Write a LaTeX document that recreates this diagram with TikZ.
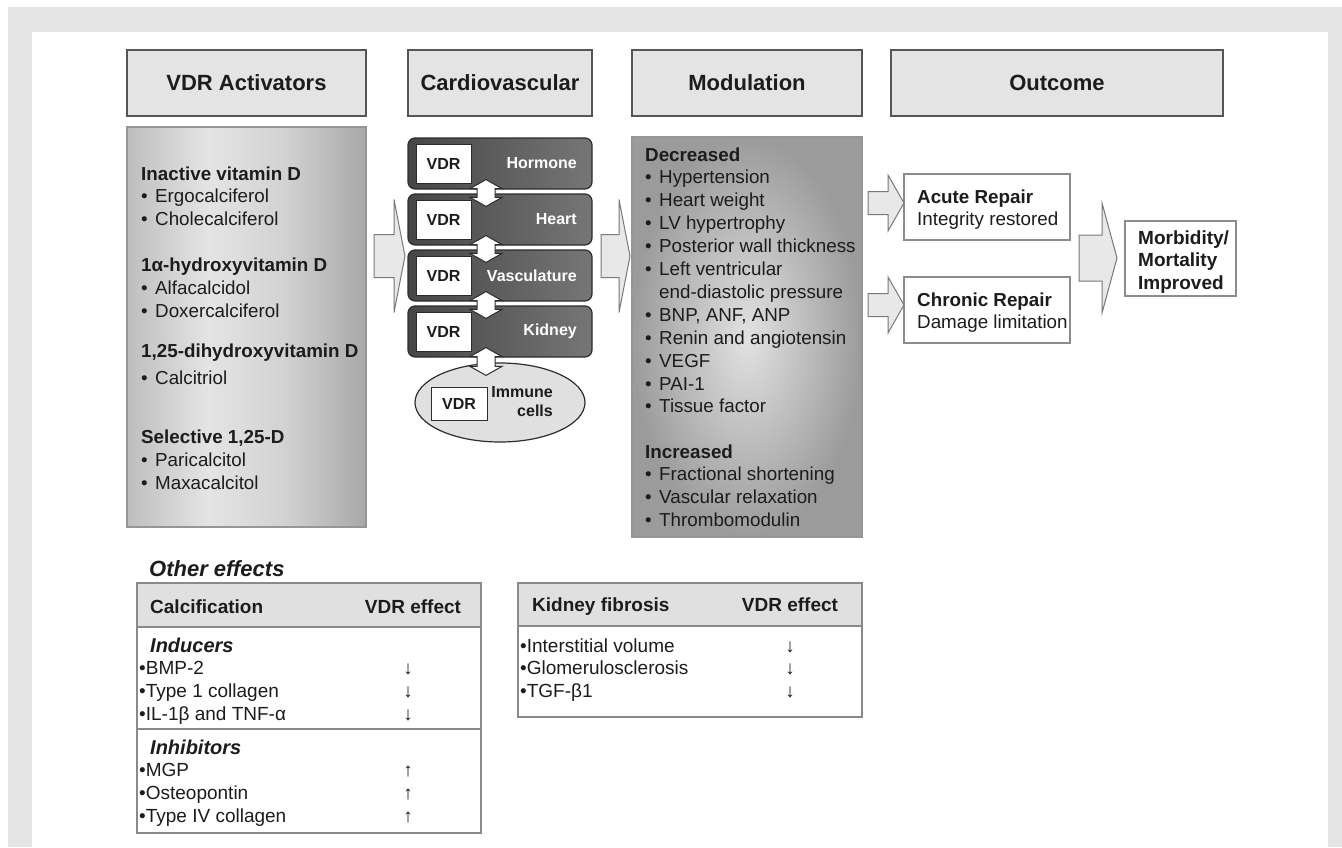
\documentclass[tikz,border=0pt]{standalone}
\usepackage{fontspec}
\setmainfont{Liberation Sans}
\usetikzlibrary{calc,shapes.geometric}
\definecolor{FrameGray}{RGB}{229,229,229}
\definecolor{HeadFill}{RGB}{228,228,228}
\definecolor{HeadLine}{RGB}{85,85,85}
\definecolor{ArrowFill}{RGB}{232,232,232}
\definecolor{ArrowLine}{RGB}{120,120,120}
\definecolor{PanelLine}{RGB}{150,150,150}
\definecolor{PanelEdge}{RGB}{190,190,190}
\definecolor{PanelLight}{RGB}{228,228,228}
\definecolor{PanelMid}{RGB}{210,210,210}
\definecolor{PanelDark}{RGB}{168,168,168}
\definecolor{ModLight}{RGB}{226,226,226}
\definecolor{ModDark}{RGB}{155,155,155}
\definecolor{OrganDark}{RGB}{70,70,70}
\definecolor{OrganLight}{RGB}{118,118,118}
\definecolor{OrganLine}{RGB}{45,45,45}
\definecolor{CellFill}{RGB}{224,224,224}
\definecolor{OutLine}{RGB}{140,140,140}
\definecolor{TableFill}{RGB}{224,224,224}
\definecolor{TableLine}{RGB}{138,138,138}
\definecolor{TextDark}{RGB}{28,28,28}
\pgfdeclarehorizontalshading{activshade}{100bp}{color(0bp)=(PanelEdge); color(25bp)=(PanelEdge); color(42bp)=(PanelLight); color(58bp)=(PanelMid); color(75bp)=(PanelDark); color(100bp)=(PanelDark)}
\newcommand{\blt}{\makebox[14pt][l]{\textbullet}}

\begin{document}
\begin{tikzpicture}[x=1pt,y=1pt,yscale=-1,
		hdr/.style={draw=HeadLine, fill=HeadFill, line width=1.6pt, minimum height=66pt, inner sep=0pt, text=TextDark, font=\fontsize{22}{26}\selectfont\bfseries},
		panel/.style={draw=PanelLine, line width=1.2pt, minimum height=400pt},
		organ/.style={draw=OrganLine, line width=1.2pt, rounded corners=7pt, left color=OrganDark, right color=OrganLight, minimum width=184pt, minimum height=51pt},
		vdrbox/.style={draw=OrganLine, fill=white, line width=1pt, minimum width=55pt, minimum height=39pt, inner sep=0pt, text=TextDark, font=\fontsize{16}{19}\selectfont\bfseries},
		organlbl/.style={anchor=east, inner sep=0pt, text=white, font=\fontsize{16}{19}\selectfont\bfseries},
		listtxt/.style={anchor=base west, inner sep=0pt, align=left, text=TextDark, font=\fontsize{18.8}{22.9}\selectfont},
		outbox/.style={draw=OutLine, fill=white, line width=1.4pt, minimum width=166pt, minimum height=66pt},
		tblhd/.style={draw=TableLine, fill=TableFill, line width=1.5pt, minimum width=344pt, minimum height=44pt},
		tblrow/.style={draw=TableLine, fill=white, line width=1.5pt, minimum width=344pt},
		tbltxt/.style={anchor=base west, inner sep=0pt, align=left, text=TextDark, font=\fontsize{19}{22.9}\selectfont},
		fatarrow/.style n args={3}{draw=ArrowLine, fill=ArrowFill, line width=1pt, to path={
				($(\tikztostart)+(0,-#1)$) -- ($(\tikztotarget)+(-#3,-#1)$) -- ($(\tikztotarget)+(-#3,-#2)$) -- (\tikztotarget)
				-- ($(\tikztotarget)+(-#3,#2)$) -- ($(\tikztotarget)+(-#3,#1)$) -- ($(\tikztostart)+(0,#1)$) -- cycle}},
		dblarrow/.style={draw=OrganLine, fill=white, line width=1pt, to path={
				($(\tikztostart.south)+(-14,-10)$) -- ($(\tikztostart.south)+(2,-1)$) -- ($(\tikztostart.south)+(-5,-1)$)
				-- ($(\tikztotarget.north)+(-5,4)$) -- ($(\tikztotarget.north)+(2,4)$) -- ($(\tikztotarget.north)+(-14,13)$)
				-- ($(\tikztotarget.north)+(-30,4)$) -- ($(\tikztotarget.north)+(-23,4)$) -- ($(\tikztostart.south)+(-23,-1)$)
				-- ($(\tikztostart.south)+(-30,-1)$) -- cycle}}]

		% Page with its grey frame
		\fill[white] (0,0) rectangle (1342,847);
		\fill[FrameGray] (8,7) rectangle (1342,847);
		\fill[white] (32,32) rectangle (1328,847);

		% Column headers
		\node[hdr, minimum width=239pt] (acthd) at (246.5,83) {VDR Activators};
		\node[hdr, minimum width=184pt] (cardhd) at (500,83) {Cardiovascular};
		\node[hdr, minimum width=230pt] (modhd) at (747,83) {Modulation};
		\node[hdr, minimum width=332pt] (outhd) at (1057,83) {Outcome};

		% Activator panel and its lists (placed by the baseline of the last line)
		\node[panel, shading=activshade, minimum width=239pt] (actpanel) at (246.5,327) {};
		\node[listtxt] (inact) at (141,225.8) {\textbf{Inactive vitamin D}\\\blt Ergocalciferol\\\blt Cholecalciferol};
		\node[listtxt] (hydro) at (141,317.3) {\textbf{1α-hydroxyvitamin D}\\\blt Alfacalcidol\\\blt Doxercalciferol};
		\node[listtxt] (dihydro) at (141,384.9) {\textbf{1,25-dihydroxyvitamin D}\\[5pt]\blt Calcitriol};
		\node[listtxt] (select) at (141,489.3) {\textbf{Selective 1,25-D}\\\blt Paricalcitol\\\blt Maxacalcitol};

		% Cardiovascular targets, each with its VDR
		\node[organ] (hormone) at (500,163.5) {};
		\node[organ] (heart) at (500,219.5) {};
		\node[organ] (vascul) at (500,275.5) {};
		\node[organ] (kidney) at (500,331.5) {};
		\node[vdrbox] (vdrhor) at (443.5,163.5) {VDR};
		\node[vdrbox] (vdrhea) at (443.5,219.5) {VDR};
		\node[vdrbox] (vdrvas) at (443.5,275.5) {VDR};
		\node[vdrbox] (vdrkid) at (443.5,331.5) {VDR};
		\node[organlbl] (lblhor) at (577,163.5) {Hormone};
		\node[organlbl] (lblhea) at (577,219.5) {Heart};
		\node[organlbl] (lblvas) at (577,275.5) {Vasculature};
		\node[organlbl] (lblkid) at (577,331.5) {Kidney};

		% Immune cells
		\node[ellipse, draw=OrganLine, fill=CellFill, line width=1.2pt, minimum width=170pt, minimum height=79pt] (immune) at (500,402.5) {};
		\node[vdrbox, minimum width=56pt, minimum height=33pt] (vdrimm) at (459,403.5) {VDR};
		\node[organlbl, text=TextDark, align=right] (lblimm) at (553,402) {Immune\\cells};

		% Two-way links down the column
		\draw[dblarrow] (hormone) to (heart);
		\draw[dblarrow] (heart) to (vascul);
		\draw[dblarrow] (vascul) to (kidney);
		\draw[dblarrow] (kidney) to (immune);

		% Modulation panel and its lists
		\node[panel, inner color=ModLight, outer color=ModDark, minimum width=230pt] (modpanel) at (747,337) {};
		\node[listtxt] (decr) at (645,412.9) {\textbf{Decreased}\\\blt Hypertension\\\blt Heart weight\\\blt LV hypertrophy\\\blt Posterior wall thickness\\\blt Left ventricular\\\hspace*{14pt}end-diastolic pressure\\\blt BNP, ANF, ANP\\\blt Renin and angiotensin\\\blt VEGF\\\blt PAI-1\\\blt Tissue factor};
		\node[listtxt] (incr) at (645,526.7) {\textbf{Increased}\\\blt Fractional shortening\\\blt Vascular relaxation\\\blt Thrombomodulin};

		% Outcome boxes
		\node[outbox] (acute) at (987,207) {};
		\node[outbox] (chronic) at (987,310) {};
		\node[outbox, minimum width=111pt, minimum height=75pt] (morbid) at (1180.5,258.5) {};
		\node[listtxt] (acutetxt) at (917,225.9) {\textbf{Acute Repair}\\Integrity restored};
		\node[listtxt] (chrontxt) at (917,328.9) {\textbf{Chronic Repair}\\Damage limitation};
		\node[listtxt, font=\fontsize{19}{22.7}\selectfont\bfseries] (morbtxt) at (1138,289.4) {Morbidity/\\Mortality\\Improved};

		% Broad grey arrows
		\coordinate (actout) at (374,256);
		\coordinate (cardin) at (405,256);
		\coordinate (cardout) at (601,256);
		\coordinate (modin) at (630,256);
		\coordinate (acuteout) at (868,203);
		\coordinate (acutein) at (904,203);
		\coordinate (chronout) at (868,305);
		\coordinate (chronin) at (904,305);
		\coordinate (repout) at (1079,258);
		\coordinate (morbin) at (1117,258);
		\draw[fatarrow={21.5}{56.5}{11}] (actout) to (cardin);
		\draw[fatarrow={21.5}{56.5}{11}] (cardout) to (modin);
		\draw[fatarrow={11.5}{28}{16}] (acuteout) to (acutein);
		\draw[fatarrow={11.5}{28}{16}] (chronout) to (chronin);
		\draw[fatarrow={23}{55}{15}] (repout) to (morbin);

		% Other effects
		\node[anchor=base west, inner sep=0pt, text=TextDark, font=\fontsize{22}{26}\selectfont\bfseries\itshape] (other) at (149,576) {Other effects};

		% Calcification table
		\node[tblhd] (calchd) at (309,605) {};
		\node[tblrow, minimum height=102pt] (calcind) at (309,678) {};
		\node[tblrow, minimum height=104pt] (calcinh) at (309,781) {};
		\node[tbltxt, font=\fontsize{19}{22.9}\selectfont\bfseries] (calcname) at (150,613) {Calcification};
		\node[tbltxt, anchor=base, font=\fontsize{19}{22.9}\selectfont\bfseries] (calceff) at (413,613) {VDR effect};
		\node[tbltxt] (indlist) at (139,720.7) {\hspace*{11pt}{\fontsize{20}{22.9}\selectfont\bfseries\itshape Inducers}\\•BMP-2\\•Type 1 collagen\\•IL-1β and TNF-α};
		\node[tbltxt, anchor=base, align=center] (indeff) at (408,720.7) {↓\\↓\\↓};
		\node[tbltxt] (inhlist) at (139,822.7) {\hspace*{11pt}{\fontsize{20}{22.9}\selectfont\bfseries\itshape Inhibitors}\\•MGP\\•Osteopontin\\•Type IV collagen};
		\node[tbltxt, anchor=base, align=center] (inheff) at (408,822.7) {↑\\↑\\↑};

		% Kidney fibrosis table
		\node[tblhd, minimum height=43pt] (kidhd) at (690,604.5) {};
		\node[tblrow, minimum height=91pt] (kidrow) at (690,671.5) {};
		\node[tbltxt, font=\fontsize{19}{22.9}\selectfont\bfseries] (kidname) at (532,611) {Kidney fibrosis};
		\node[tbltxt, anchor=base, font=\fontsize{19}{22.9}\selectfont\bfseries] (kideff) at (790,611) {VDR effect};
		\node[tbltxt] (kidlist) at (520,697.8) {•Interstitial volume\\•Glomerulosclerosis\\•TGF-β1};
		\node[tbltxt, anchor=base, align=center] (kidarr) at (790,697.8) {↓\\↓\\↓};
	\end{tikzpicture}
\end{document}
